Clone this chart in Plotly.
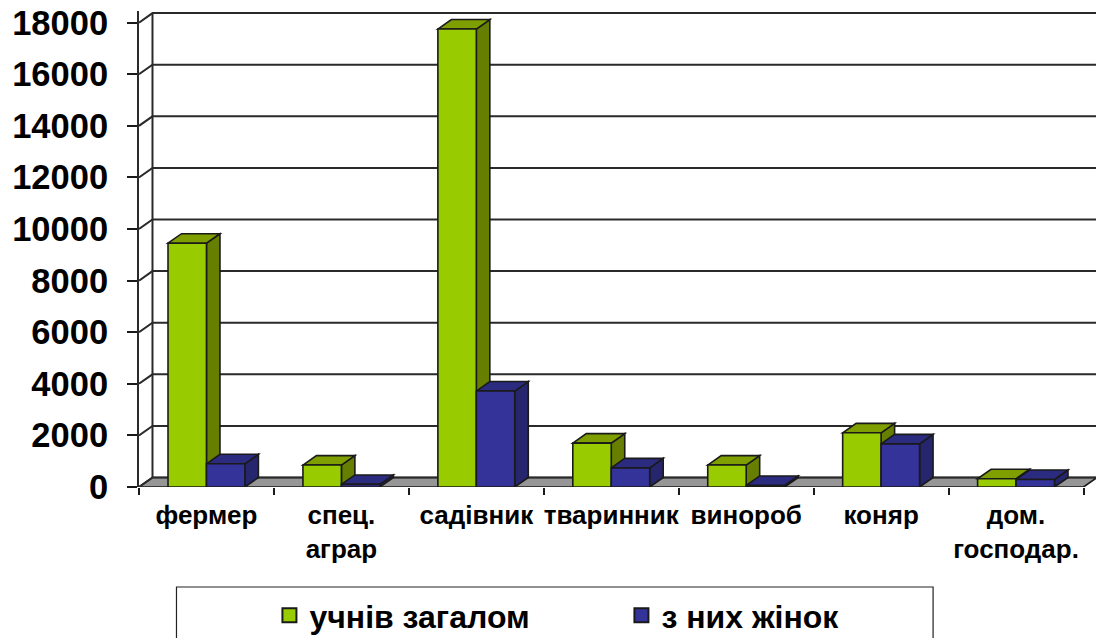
import plotly.graph_objects as go

categories = ["фермер", "спец.<br>аграр", "садівник", "тваринник", "винороб", "коняр", "дом.<br>господар."]
total = [9450, 850, 17750, 1700, 850, 2100, 320]
women = [900, 100, 3720, 740, 60, 1670, 290]
y_ticks = [0, 2000, 4000, 6000, 8000, 10000, 12000, 14000, 16000, 18000]
series_names = ["учнів загалом", "з них жінок"]

W, H = 1096, 638
L, R, T, B = 138.5, 1096, 11, 487
DX = 0.1          # depth of the 3D effect, in category units
DY = 368          # depth of the 3D effect, in value units
YMAX = 18450
XMAX = -0.5 + (R - L) / 135
BARGAP = 0.43
BW = (1 - BARGAP) / 2

GREEN = ("#99CC00", "#7F9F00", "#667F00")
BLUE = ("#333399", "#2B2B80", "#26266E")
INK = "#1a1a1a"


def poly(pts, fill, line=INK, width=1.6):
    path = "M" + "L".join(f"{x},{y}" for x, y in pts) + "Z"
    return dict(type="path", path=path, xref="x", yref="y", fillcolor=fill,
                line=dict(color=line, width=width), layer="below")


shapes = []
shapes.append(poly([(-0.5, 0), (-0.5 + DX, DY), (6.5 + DX, DY), (6.5, 0)], "#969696"))
for v in y_ticks:
    shapes.append(dict(type="path",
                       path=f"M-0.5,{v}L{-0.5 + DX},{v + DY}L{XMAX + 1},{v + DY}",
                       xref="x", yref="y", line=dict(color="#2a2a2a", width=2), layer="below"))
shapes.append(dict(type="line", x0=-0.5 + DX, x1=-0.5 + DX, y0=DY, y1=18000 + DY,
                   xref="x", yref="y", line=dict(color="#2a2a2a", width=2), layer="below"))
for i in range(len(categories)):
    for k, (vals, col) in enumerate(((total, GREEN), (women, BLUE))):
        v = vals[i]
        x0 = i - BW + k * BW
        x1 = x0 + BW
        shapes.append(poly([(x1, 0), (x1 + DX, DY), (x1 + DX, v + DY), (x1, v)], col[2]))
        shapes.append(poly([(x0, v), (x0 + DX, v + DY), (x1 + DX, v + DY), (x1, v)], col[1]))

py = lambda p: (B - p) / (B - T)
px = lambda p: (p - L) / (R - L)
shapes.append(dict(type="rect", xref="paper", yref="paper",
                   x0=px(176), x1=px(933), y0=py(587), y1=py(650),
                   line=dict(color="#222", width=1.2), fillcolor="white", layer="below"))

fig = go.Figure()
fig.add_bar(x=categories, y=total, showlegend=False, marker=dict(color=GREEN[0], line=dict(color=INK, width=1.6)))
fig.add_bar(x=categories, y=women, showlegend=False, marker=dict(color=BLUE[0], line=dict(color=INK, width=1.6)))
for name, col in zip(series_names, (GREEN, BLUE)):
    fig.add_scatter(x=[None], y=[None], mode="markers", name=name,
                    marker=dict(symbol="square", size=14, color=col[0], line=dict(color=INK, width=2)))

fig.update_layout(
    width=W, height=H, margin=dict(l=L, r=0, t=T, b=H - B, pad=0, autoexpand=False),
    paper_bgcolor="white", plot_bgcolor="white",
    barmode="group", bargap=BARGAP, bargroupgap=0,
    font=dict(family="Liberation Sans", color="black"),
    shapes=shapes,
    showlegend=True,
    legend=dict(orientation="h", x=px(269), y=py(588), xanchor="left", yanchor="top",
                entrywidth=307, entrywidthmode="pixels", itemwidth=30, bgcolor="rgba(0,0,0,0)",
                font=dict(size=32, family="Liberation Sans", weight="bold"), tracegroupgap=0),
    xaxis=dict(type="category", categoryorder="array", categoryarray=categories,
               tickson="boundaries", range=[-0.5, XMAX], showgrid=False, zeroline=False,
               showline=False, ticks="outside", ticklen=7, tickwidth=1.5, tickcolor=INK,
               tickangle=0, tickfont=dict(size=26, family="Liberation Sans", weight="bold"),
               ticklabelstandoff=10, automargin=False),
    yaxis=dict(range=[0, YMAX], tickvals=y_ticks, ticktext=[str(v) for v in y_ticks],
               showgrid=False, zeroline=False, showline=True, linecolor="#2a2a2a", linewidth=2,
               ticks="outside", ticklen=10, tickwidth=1.5, tickcolor=INK,
               tickfont=dict(size=34.5, family="Liberation Sans", weight="bold"),
               ticklabelstandoff=12, automargin=False),
)
fig.write_html("out.html", config=dict(displayModeBar=False),
               post_script="document.body.style.margin='0';document.documentElement.style.overflow='hidden';")
